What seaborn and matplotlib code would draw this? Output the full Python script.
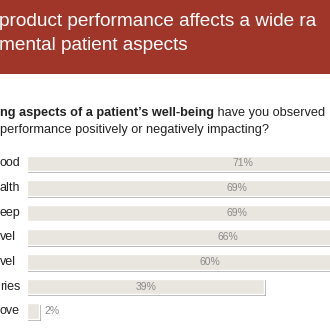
import matplotlib
matplotlib.use("Agg")
import matplotlib.pyplot as plt
import matplotlib.patheffects as pe
import seaborn as sns
import pandas as pd

categories = ["ood", "alth", "eep", "vel", "vel ", "ries", "ove"]
values = [71, 69, 69, 66, 60, 39, 2]
value_labels = ["71%", "69%", "69%", "66%", "60%", "39%", "2%"]
title_lines = ["product performance affects a wide ra", "mental patient aspects"]
question_bold = "ng aspects of a patient\u2019s well-being"
question_rest = " have you observed"
question_line2 = "performance positively or negatively impacting?"

sns.set_theme(style="white")
plt.rcParams['font.family'] = ['Liberation Sans', 'DejaVu Sans']

W = H = 330
fig = plt.figure(figsize=(3.3, 3.3), dpi=100)
fig.patch.set_facecolor("white")

# Title band
band = fig.add_axes([0, 1 - 74 / H, 1, 74 / H])
band.set_facecolor("#A0352A")
band.set_xticks([]); band.set_yticks([])
for s in band.spines.values():
    s.set_visible(False)
band.set_xlim(0, 1); band.set_ylim(0, 1)
fig.text(-0.003, 1 - 21 / H, title_lines[0], color="white", fontsize=13.7, va="center", ha="left")
fig.text(-0.003, 1 - 45 / H, title_lines[1], color="white", fontsize=13.7, va="center", ha="left")

# Question
qfs = 9.2
t1 = fig.text(0.0, 1 - 113 / H, question_bold, color="#222222", fontsize=qfs,
              fontweight="bold", va="center", ha="left")
fig.canvas.draw()
bb = t1.get_window_extent()
fig.text(bb.x1 / W, 1 - 113 / H, question_rest, color="#222222", fontsize=qfs, va="center", ha="left")
fig.text(0.0, 1 - 130 / H, question_line2, color="#222222", fontsize=qfs, va="center", ha="left")

# Bars
df = pd.DataFrame({"cat": categories, "val": values})
top_px, step = 163.5, 24.6
ax = fig.add_axes([27 / W, 1 - (top_px + 6.5 * step) / H, 1 - 27 / W, 7 * step / H])
sns.barplot(data=df, x="val", y="cat", orient="h", color="#E9E5DF", width=0.64,
            saturation=1, ax=ax, order=categories)
for p in ax.patches:
    p.set_path_effects([pe.SimplePatchShadow(offset=(1.0, -1.3), shadow_rgbFace="#a8a8a8", alpha=0.9),
                        pe.Normal()])
ax.set_xlim(0, 49.8)
ax.set_ylim(6.5, -0.5)
ax.set_xlabel(""); ax.set_ylabel("")
ax.set_xticks([]); ax.set_yticks([])
for s in ax.spines.values():
    s.set_visible(False)
ax.patch.set_alpha(0)

for i, (v, lab) in enumerate(zip(values, value_labels)):
    if v >= 10:
        ax.text(v / 2, i, lab, ha="center", va="center", color="#8a8a8a", fontsize=7.5)
    else:
        ax.text(v + 0.9, i, lab, ha="left", va="center", color="#8a8a8a", fontsize=7.5)

# Category fragments
for i, c in enumerate(categories):
    y_px = top_px + i * step
    fig.text(0.0, 1 - y_px / H, c.strip(), color="#222222", fontsize=9, va="center", ha="left")

fig.savefig("out.png", dpi=100)
